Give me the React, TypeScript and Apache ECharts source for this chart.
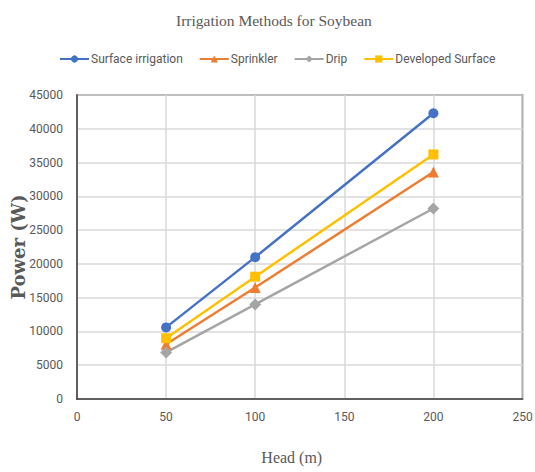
import React, { useEffect, useRef } from "react";
import * as echarts from "echarts";

const heads = [50, 100, 200];
const surfaceIrrigation = [10600, 21000, 42300];
const sprinkler = [8100, 16500, 33600];
const drip = [6900, 14000, 28200];
const developedSurface = [9000, 18100, 36200];
const seriesNames = ["Surface irrigation", "Sprinkler", "Drip", "Developed Surface"];

const sans = "Roboto, 'Liberation Sans', sans-serif";
const serif = "'Liberation Serif', 'Times New Roman', serif";

export default function App() {
  const ref = useRef<HTMLDivElement>(null);
  useEffect(() => {
    if (!ref.current) return;
    const chart = echarts.init(ref.current, undefined, { renderer: "svg" });
    const mk = (name: string, vals: number[], color: string, symbol: string, size: number) => ({
      name,
      type: "line",
      data: heads.map((h, i) => [h, vals[i]]),
      symbol,
      symbolSize: size,
      lineStyle: { color, width: 2.5 },
      itemStyle: { color },
      color,
    });
    chart.setOption({
      animation: false,
      backgroundColor: "#ffffff",
      title: {
        text: "Irrigation Methods for Soybean",
        left: 176,
        top: 12,
        padding: 0,
        textStyle: { fontFamily: serif, fontSize: 15.5, fontWeight: "normal", color: "#595959" },
      },
      legend: {
        top: 48,
        left: 54,
        width: 475,
        itemWidth: 29,
        itemHeight: 9,
        itemGap: 16,
        textStyle: { fontFamily: sans, fontSize: 12, color: "#595959", padding: [0, 0, 0, -3] },
        data: seriesNames,
      },
      grid: {
        left: 77,
        right: 12.5,
        top: 95,
        bottom: 73,
        outerBoundsMode: "none",
        containLabel: false,
        show: true,
        borderColor: "#404040",
        borderWidth: 1.5,
      },
      xAxis: {
        type: "value",
        min: 0,
        max: 250,
        interval: 50,
        name: "Head (m)",
        nameLocation: "middle",
        nameGap: 50,
        nameMoveOverlap: false,
        nameTextStyle: { fontFamily: serif, fontSize: 16, color: "#595959", padding: [0, 16, 0, 0] },
        axisLine: { show: true, lineStyle: { color: "#404040", width: 1.5 } },
        axisTick: { show: false },
        axisLabel: { fontFamily: sans, fontSize: 12, color: "#595959", margin: 12, formatter: (v: number) => String(v) },
        splitLine: { show: true, lineStyle: { color: "#d9d9d9", width: 1.5 } },
      },
      yAxis: {
        type: "value",
        min: 0,
        max: 45000,
        interval: 5000,
        name: "Power (W)",
        nameLocation: "middle",
        nameGap: 50,
        nameMoveOverlap: false,
        nameTextStyle: { fontFamily: "'DejaVu Serif', serif", fontSize: 18, fontWeight: "bold", color: "#595959" },
        axisLine: { show: true, lineStyle: { color: "#404040", width: 1.5 } },
        axisTick: { show: false },
        axisLabel: { fontFamily: sans, fontSize: 12, color: "#595959", margin: 14, formatter: (v: number) => String(v) },
        splitLine: { show: true, lineStyle: { color: "#d9d9d9", width: 1.5 } },
      },
      series: [
        mk(seriesNames[0], surfaceIrrigation, "#4472C4", "circle", 10),
        mk(seriesNames[1], sprinkler, "#ED7D31", "triangle", 11),
        mk(seriesNames[2], drip, "#A5A5A5", "diamond", 12),
        mk(seriesNames[3], developedSurface, "#FFC000", "rect", 10),
      ],
    });
    return () => chart.dispose();
  }, []);
  return <div ref={ref} style={{ width: 535, height: 472, position: "absolute", left: 0, top: 0 }} />;
}
